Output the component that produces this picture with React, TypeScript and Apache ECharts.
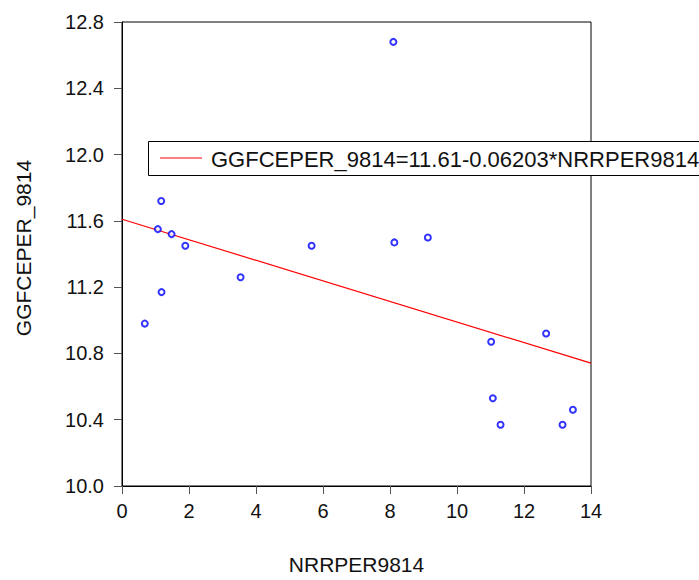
import React, { useEffect, useRef } from "react";
import * as echarts from "echarts";

const xValues = [0.68, 1.07, 1.17, 1.18, 1.48, 1.89, 3.54, 5.66, 8.1, 8.13, 9.13, 11.02, 11.07, 11.3, 12.66, 13.15, 13.46];
const yValues = [10.98, 11.55, 11.72, 11.17, 11.52, 11.45, 11.26, 11.45, 12.68, 11.47, 11.5, 10.87, 10.53, 10.37, 10.92, 10.37, 10.46];
const intercept = 11.61;
const slope = -0.06203;
const fitRange = [0, 14];
const yTicks = [10.0, 10.4, 10.8, 11.2, 11.6, 12.0, 12.4, 12.8];
const xTicks = [0, 2, 4, 6, 8, 10, 12, 14];
const fitName = "GGFCEPER_9814=11.61-0.06203*NRRPER9814";

export default function App() {
  const ref = useRef<HTMLDivElement>(null);
  useEffect(() => {
    if (!ref.current) return;
    const chart = echarts.init(ref.current, null, { renderer: "svg" });
    const font = "'Liberation Sans', Arial, sans-serif";
    const scatter = xValues.map((x, i) => [x, yValues[i]]);
    const fit = fitRange.map((x) => [x, intercept + slope * x]);
    chart.setOption({
      animation: false,
      backgroundColor: "#fff",
      textStyle: { fontFamily: font },
      grid: {
        left: 122, top: 22, right: 108, bottom: 91,
        show: true, borderColor: "#000", borderWidth: 1, backgroundColor: "transparent",
      },
      xAxis: {
        type: "value",
        min: xTicks[0], max: xTicks[xTicks.length - 1], interval: 2,
        splitLine: { show: false },
        axisLine: { show: true, onZero: false, lineStyle: { color: "#000", width: 1 } },
        axisTick: { show: true, length: 8, lineStyle: { color: "#555" } },
        axisLabel: { fontSize: 20, color: "#111", margin: 15, fontFamily: font },
        name: "NRRPER9814",
        nameLocation: "middle",
        nameGap: 68,
        nameTextStyle: { fontSize: 21, color: "#111", fontFamily: font },
      },
      yAxis: {
        type: "value",
        min: yTicks[0], max: yTicks[yTicks.length - 1], interval: 0.4,
        splitLine: { show: false },
        axisLine: { show: true, onZero: false, lineStyle: { color: "#000", width: 1 } },
        axisTick: { show: true, length: 8, lineStyle: { color: "#555" } },
        axisLabel: {
          fontSize: 20, color: "#111", margin: 18, fontFamily: font,
          formatter: (v: number) => v.toFixed(1),
        },
      },
      legend: { show: false },
      graphic: [
        {
          type: "text",
          x: 23, y: 248,
          rotation: Math.PI / 2,
          style: {
            text: "GGFCEPER_9814",
            fontSize: 21, fill: "#111", fontFamily: font,
            align: "center", verticalAlign: "middle",
          },
        },
        {
          type: "group",
          z: 100,
          children: [
            {
              type: "rect",
              shape: { x: 148.5, y: 141.5, width: 600, height: 34 },
              style: { fill: "#fff", stroke: "#000", lineWidth: 1 },
            },
            {
              type: "line",
              shape: { x1: 160, y1: 158, x2: 202, y2: 158 },
              style: { stroke: "#ff0000", lineWidth: 1.2 },
            },
            {
              type: "text",
              x: 211, y: 159,
              style: {
                text: fitName,
                fontSize: 22, fill: "#111", fontFamily: font,
                align: "left", verticalAlign: "middle",
              },
            },
          ],
        },
      ],
      series: [
        {
          name: "points",
          type: "scatter",
          data: scatter,
          symbol: "emptyCircle",
          symbolSize: 6,
          itemStyle: { color: "#0000ff", borderColor: "#0000ff", borderWidth: 1.4 },
          z: 3,
        },
        {
          name: fitName,
          type: "line",
          data: fit,
          symbol: "none",
          lineStyle: { color: "#ff0000", width: 1.2 },
          itemStyle: { color: "#ff0000" },
          z: 2,
        },
      ],
    });
    return () => chart.dispose();
  }, []);
  return (
    <div
      ref={ref}
      style={{ position: "fixed", left: 0, top: 0, width: 699, height: 580, background: "#fff" }}
    />
  );
}
